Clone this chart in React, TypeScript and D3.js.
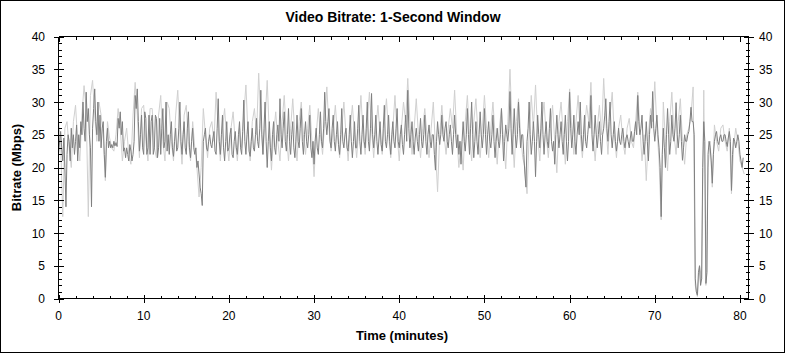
import React from "react";
import * as d3 from "d3";

const WIDTH = 785;
const HEIGHT = 353;

const chartTitle = "Video Bitrate: 1-Second Window";
const xLabel = "Time (minutes)";
const yLabel = "Bitrate (Mbps)";

const xTicks = [0, 10, 20, 30, 40, 50, 60, 70, 80];
const yTicks = [0, 5, 10, 15, 20, 25, 30, 35, 40];

const darkStep = 0.125;
const darkBitrate = [
  22, 24, 25.5, 23, 21, 24.5, 20, 14, 22, 25, 24, 21, 26, 23, 25, 22,
  24, 26.5, 21, 25, 23, 27, 25, 30, 26, 24, 31.5, 27, 29, 25, 23, 14,
  26, 29, 32, 27, 25, 30, 24, 28, 23, 26, 27, 22, 18.5, 24, 26, 23,
  24, 23, 23.5, 23, 24, 23.3, 23.8, 23.2, 27.5, 26, 28.5, 25, 27, 22.5, 23, 21.5,
  23, 22, 21, 23.5, 22.5, 21, 22, 24, 31, 29, 32, 27, 22.5, 25, 28, 23,
  22, 28.5, 27.5, 22, 23, 28, 22, 27, 28, 22, 23, 28, 27.5, 21.5, 23, 27.5,
  22, 26, 29, 23, 24, 30, 22.5, 25, 22, 25, 27, 23, 21.7, 24, 26, 22.5,
  23, 26, 30, 24, 22, 25, 27, 23, 22, 26, 28.5, 23, 21.5, 24, 26, 23,
  22, 23, 20, 21, 19, 17, 16, 14.2, 24, 25, 26, 23, 22.5, 24, 25, 23.5,
  23, 24.5, 25.5, 22.5, 22, 26, 30.5, 24, 22, 25, 28, 23, 21, 24, 27, 22.5,
  23, 25, 26, 22, 21.5, 24, 25.5, 23, 22, 25, 27, 23, 22, 25.5, 30.3, 24,
  22, 25, 27, 22.5, 21.7, 24, 26, 23, 22.5, 25, 27.5, 24, 23, 26, 31.8, 25,
  22, 26, 30, 24, 20, 24, 27, 23, 21, 25, 27, 23, 22, 25, 26.5, 24,
  30.5, 25, 23, 26, 28.5, 24, 22.5, 25, 29, 24, 22, 25, 27, 23, 21.5, 24,
  28, 24, 23, 26, 29, 24, 22, 25, 27, 24, 23, 25, 28, 23, 21.5, 24,
  20.5, 24, 26, 23, 22, 25, 28.5, 24, 23, 26, 31.5, 27, 25, 27, 29, 24,
  23, 26, 28, 24, 22.5, 25, 27, 23.5, 22, 25, 29, 24, 23, 25, 26, 23,
  22.5, 25, 28, 24, 21.5, 24, 27, 23, 23, 26, 29.5, 24, 22, 25, 28, 24,
  23, 26, 30, 24, 22.5, 26, 31.3, 25, 23, 25, 28, 24, 22, 24.5, 27, 23.5,
  22.5, 26, 29.5, 24, 23, 25, 28, 24, 22, 25, 27, 24, 23, 26, 29, 24,
  23, 25, 26.5, 23.5, 22, 25, 28, 24, 31.8, 26, 23, 25, 27, 24, 22, 24.5,
  26, 24, 22.5, 25, 27.5, 24, 23, 25, 28, 24, 22, 25, 26.5, 24, 23, 25,
  25, 22, 19.6, 24, 27, 25, 23.5, 25, 28, 25, 24, 26, 27, 24, 23, 25,
  26.5, 24, 22, 25, 28, 25, 23, 25, 22, 24, 20.5, 24, 27, 24, 22.5, 25,
  29, 25, 22, 26, 30, 25, 21.5, 24, 27, 24, 22, 25, 28.5, 25, 23, 25,
  29, 25, 22, 25, 27, 24, 23, 25, 28, 24, 21.5, 24, 26, 24, 23, 25,
  29, 25, 21, 24, 26.5, 25, 24, 26, 31.6, 26, 22, 25, 29, 25, 23, 25,
  30, 26, 23, 25, 25, 22, 19, 17, 24, 26, 30, 25, 22, 24, 27, 24,
  18.6, 24, 28, 25, 23, 26, 30, 25, 22, 25, 27, 24, 23, 26, 29, 24,
  22.5, 24, 20.5, 25, 28, 25, 23, 25, 27, 24, 22, 25, 28, 24, 21, 24,
  31.5, 26, 23, 25, 28, 24, 22, 25, 27, 25, 30, 25, 22.5, 25, 28, 24,
  23, 25, 27, 26, 31, 25, 22.5, 25, 28, 25, 23, 25, 27, 24, 22, 25,
  26, 28, 30.5, 26, 24, 27, 30, 25, 23, 25, 27, 24, 22.5, 24, 26, 24,
  23.5, 25, 26, 24, 23, 24.5, 25, 24, 23, 24.5, 25.5, 24, 24, 25.5, 27, 25,
  31, 27, 25, 26, 28, 24, 22, 24, 27, 24, 21, 25, 28, 26, 31.6, 26,
  24, 26, 28, 25, 23, 20, 12.5, 22, 26, 23, 20, 25, 29, 25, 22, 24,
  28, 25, 24, 26, 29.9, 25, 23, 25, 28, 24, 21.1, 23, 25, 24, 24, 25,
  25.5, 27, 29.2, 27, 27, 25, 3, 1, 0.5, 4, 5, 2, 3, 20, 27, 24,
  2.3, 4, 22, 24, 23, 21, 17.6, 22, 24, 25, 25.5, 24, 23.5, 24.5, 25, 24,
  24, 25, 25, 24, 23.2, 24.5, 25.5, 24, 16.5, 22, 24.5, 24, 23, 24, 25, 24,
  22, 21, 20, 21.5,
];

const lightStep = 0.25;
const lightBitrate = [
  27, 24, 12.5, 26, 27, 23, 20, 27, 29.5, 24, 21, 28, 32.5, 29, 12.5, 31,
  33.3, 28, 24, 30, 28, 25, 18, 27, 24.5, 23, 22.5, 25, 29, 26, 21, 24,
  26, 22, 20.5, 28, 33, 28, 21.5, 29, 29.5, 24, 21, 29, 29, 23, 21.5, 28,
  31, 24, 21, 30, 29, 24, 21, 28, 31.8, 25, 20.5, 28, 29.5, 24, 21, 27,
  23, 20, 15.5, 20, 29, 25, 21.5, 26, 27, 24, 31.5, 26, 21, 26, 29, 24,
  21, 26, 28.5, 24, 21, 26, 23, 28, 32.6, 25, 21, 27, 29, 25, 34.4, 27,
  22, 27, 33.3, 25, 19.6, 25, 28.5, 24, 21, 27, 31, 25, 21, 26, 30.5, 25,
  21, 27, 30, 25, 22, 26, 29.5, 24, 18.6, 25, 29, 25, 22, 27, 32.3, 26,
  22.5, 26, 29.5, 25, 21.5, 26, 30, 25, 21, 26, 29.5, 25, 21.5, 26, 31, 25,
  22, 27, 31.5, 26, 21.5, 26, 29.5, 25, 22, 27, 30.5, 25, 21.5, 26, 31, 25,
  21, 26, 30, 27, 33.6, 27, 22, 26, 30.5, 25, 21.5, 26, 29, 25, 21.5, 26,
  30, 23, 16.3, 25, 29.5, 25, 22, 26, 29, 26, 31.8, 25, 20, 24, 19.6, 27,
  31, 25, 21, 27, 30.5, 25, 21.5, 26, 31, 26, 21.5, 26, 30, 25, 20.5, 26,
  29, 24, 19.8, 27, 35, 26, 20, 27, 30.5, 25, 21.5, 20, 16, 25, 31, 26,
  32.6, 25, 21, 27, 30, 25, 21.5, 26, 29.5, 24, 19.2, 27, 30, 25, 20.5, 27,
  32, 26, 22, 27, 31, 25, 21.5, 26, 29.5, 27, 33, 25, 21, 26, 29.5, 25,
  33.6, 27, 22, 28, 31.5, 25, 21.5, 26, 28, 24, 22, 26, 27.5, 24, 23, 27,
  31.5, 26, 21, 25, 18, 25, 29, 27, 33.1, 26, 21, 12, 30, 24, 19.5, 27,
  31.5, 25, 22, 27, 30.5, 24, 20.5, 25, 26, 28, 32.3, 2, 0.3, 5, 3, 31.8,
  2, 20, 24, 17, 26.5, 24, 22.5, 26, 26.5, 24, 22.5, 26, 16, 23, 26, 24,
  21, 20, 19,
];

const FONT = "Arial, 'Liberation Sans', sans-serif";

export default function App() {
  const x = d3.scaleLinear().domain([0, 81]).range([58.5, 748.5]);
  const y = d3.scaleLinear().domain([0, 40]).range([298.5, 36.5]);

  const line = d3
    .line<[number, number]>()
    .x((d) => x(d[0]))
    .y((d) => y(d[1]));

  const darkPts: [number, number][] = darkBitrate.map((v, i) => [i * darkStep, v]);
  const lightPts: [number, number][] = lightBitrate.map((v, i) => [i * lightStep, v]);

  const minorY = d3.range(0, 41, 1).filter((v) => v % 5 !== 0);
  const minorX = d3.range(0, 81, 2).filter((v) => v % 10 !== 0);

  const [x0, x1] = x.range();
  const [y0, y1] = y.range();
  const px = (v: number) => Math.round(x(v)) + 0.5;
  const py = (v: number) => Math.round(y(v)) + 0.5;

  return (
    <svg
      width={WIDTH}
      height={HEIGHT}
      style={{ position: "absolute", left: 0, top: 0, background: "#fff" }}
      fontFamily={FONT}
    >
      <rect x={0.5} y={0.5} width={WIDTH - 1} height={HEIGHT - 1} fill="#fff" stroke="#000" />
      <text x={393} y={22} textAnchor="middle" fontSize={14} fontWeight="bold">
        {chartTitle}
      </text>

      <path d={line(lightPts) || ""} fill="none" stroke="#d0d0d0" strokeWidth={1} />
      <path d={line(darkPts) || ""} fill="none" stroke="#808080" strokeWidth={1} />

      <g stroke="#000" strokeWidth={1} shapeRendering="crispEdges">
        <line x1={x0} x2={x1} y1={y1} y2={y1} />
        <line x1={x0} x2={x1} y1={y0} y2={y0} />
        <line x1={x0} x2={x0} y1={y0} y2={y1} />
        <line x1={x1} x2={x1} y1={y0} y2={y1} />
        {yTicks.map((t) => (
          <g key={"yt" + t}>
            <line x1={x0 - 5} x2={x0 + 5} y1={py(t)} y2={py(t)} />
            <line x1={x1 - 5} x2={x1 + 5} y1={py(t)} y2={py(t)} />
          </g>
        ))}
        {minorY.map((t) => (
          <g key={"ym" + t}>
            <line x1={x0 - 1} x2={x0 + 3} y1={py(t)} y2={py(t)} />
            <line x1={x1 - 3} x2={x1 + 1} y1={py(t)} y2={py(t)} />
          </g>
        ))}
        {xTicks.map((t) => (
          <g key={"xt" + t}>
            <line x1={px(t)} x2={px(t)} y1={y0 - 4} y2={y0 + 4} />
            <line x1={px(t)} x2={px(t)} y1={y1} y2={y1 + 5} />
          </g>
        ))}
        {minorX.map((t) => (
          <g key={"xm" + t}>
            <line x1={px(t)} x2={px(t)} y1={y0 - 3} y2={y0} />
            <line x1={px(t)} x2={px(t)} y1={y1} y2={y1 + 3} />
          </g>
        ))}
      </g>

      <g fontSize={12} fill="#000">
        {yTicks.map((t) => (
          <text key={"yl" + t} x={45} y={y(t) + 4.5} textAnchor="end">
            {t}
          </text>
        ))}
        {yTicks.map((t) => (
          <text key={"yr" + t} x={759} y={y(t) + 4.5} textAnchor="start">
            {t}
          </text>
        ))}
        {xTicks.map((t) => (
          <text key={"xl" + t} x={x(t)} y={320} textAnchor="middle">
            {t}
          </text>
        ))}
      </g>

      <text x={402} y={340} textAnchor="middle" fontSize={13} fontWeight="bold">
        {xLabel}
      </text>
      <text
        transform={`translate(21,${(y0 + y1) / 2}) rotate(-90)`}
        textAnchor="middle"
        fontSize={13}
        fontWeight="bold"
      >
        {yLabel}
      </text>
    </svg>
  );
}
